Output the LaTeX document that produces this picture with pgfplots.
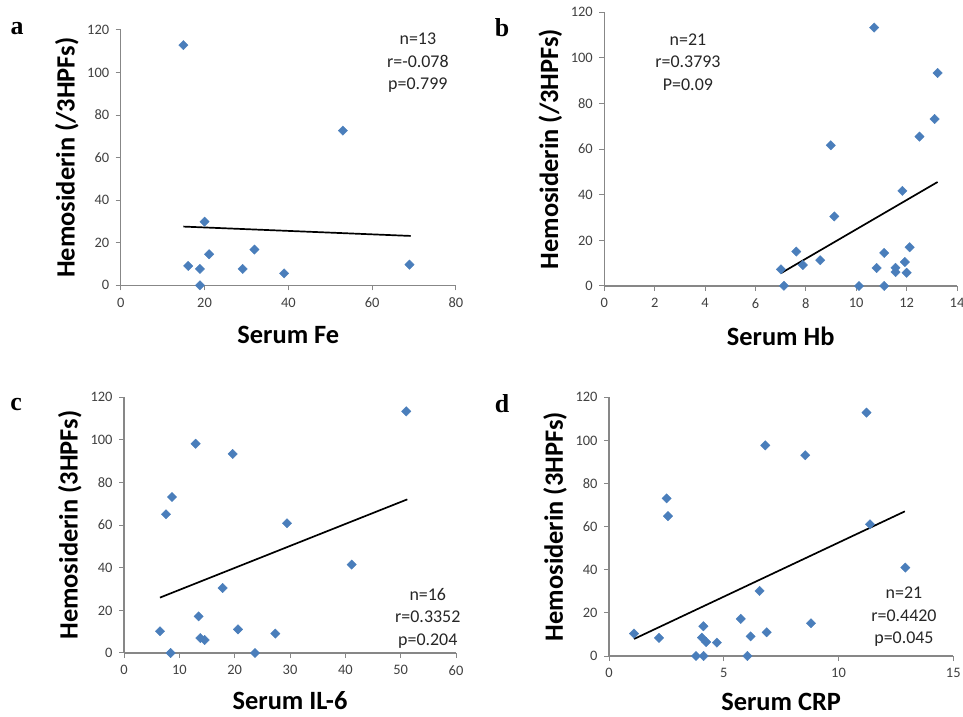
\documentclass[border=0pt]{standalone}
\usepackage{fontspec}
\setmainfont{Carlito}
\newfontfamily\letterfont{Liberation Serif}
\usepackage{pgfplots}
\pgfplotsset{compat=1.18}
\definecolor{ptblue}{HTML}{4A7EBB}
\definecolor{axgray}{HTML}{878787}
\pgfplotsset{
  panel/.style={
    scale only axis, anchor=south west,
    axis lines=left, axis line style={-, axgray, line width=1.3bp},
    tick style={axgray, line width=1bp}, major tick length=5bp, tick align=outside,
    ymin=0, ymax=120, ytick={0,20,...,120},
    clip=false,
    tick label style={font=\fontsize{14.5}{14.5}\selectfont, text=black!75},
    xticklabel style={yshift=-4bp},
    yticklabel style={xshift=-3bp},
    /pgf/number format/assume math mode=true,
    label style={font=\bfseries\fontsize{26.5}{26.5}\selectfont, anchor=center, inner sep=1bp},
  },
  pts/.style={only marks, mark=square*, mark size=3.3bp,
    mark options={rotate=45, fill=ptblue, draw=ptblue}},
  fit/.style={no marks, black, line width=1.7bp},
}
\tikzset{
  stat/.style={font=\fontsize{18}{22.5}\selectfont, align=center, text=black!85},
  letter/.style={font=\letterfont\bfseries\fontsize{26}{26}\selectfont},
}
\begin{document}
\begin{tikzpicture}
\useasboundingbox (0,0) rectangle (963bp,717bp);

% a: serum Fe
\begin{axis}[panel, at={(120.7bp,431.7bp)}, width=335.3bp, height=255.3bp,
  xmin=0, xmax=80, xtick={0,20,...,80},
  xlabel={Serum Fe}, ylabel={Hemosiderin (/3HPFs)},
  xlabel style={at={(axis description cs:0.5,-0.196)}},
  ylabel style={at={(axis description cs:-0.161,0.5)}}]
\addplot[pts] coordinates {
  (14.95,112.9) (53.0,72.7) (20.0,29.9) (16.1,9.1) (18.9,7.7) (18.9,0)
  (21.1,14.6) (29.1,7.7) (31.9,16.8) (39.0,5.6) (68.9,9.7)
};
\addplot[fit] coordinates {(14.95,27.6) (69.2,23.2)};
\node[stat] at (axis cs:70.9,104.5) {n=13\\r=-0.078\\p=0.799};
\end{axis}

% b: serum Hb
\begin{axis}[panel, at={(604.3bp,431bp)}, width=352.7bp, height=273.7bp,
  xmin=0, xmax=14, xtick={0,2,...,14},
  xlabel={Serum Hb}, ylabel={Hemosiderin (/3HPFs)},
  xlabel style={at={(axis description cs:0.5,-0.183)}},
  ylabel style={at={(axis description cs:-0.153,0.5)}}]
\addplot[pts] coordinates {
  (10.71,113.3) (13.23,93.4) (13.11,73.2) (12.51,65.5) (8.99,61.7)
  (11.83,41.7) (9.13,30.5) (7.62,15.1) (7.01,7.3) (7.88,9.2) (8.57,11.3)
  (7.13,0.1) (10.11,0) (11.11,0) (11.11,14.5) (10.81,7.9) (11.56,8.0)
  (11.56,6.1) (12.12,17.0) (11.93,10.5) (12.0,5.8)
};
\addplot[fit] coordinates {(7.01,5.6) (13.23,45.6)};
\node[stat] at (axis cs:3.32,98.2) {n=21\\r=0.3793\\P=0.09};
\end{axis}

% c: serum IL-6
\begin{axis}[panel, at={(124bp,64bp)}, width=332bp, height=255.7bp,
  xmin=0, xmax=60, xtick={0,10,...,60},
  xlabel={Serum IL-6}, ylabel={Hemosiderin (3HPFs)},
  xlabel style={at={(axis description cs:0.5,-0.186)}},
  ylabel style={at={(axis description cs:-0.163,0.5)}}]
\addplot[pts] coordinates {
  (51.0,113.4) (12.95,98.2) (19.64,93.4) (8.67,73.2) (7.59,65.1)
  (29.46,60.9) (41.14,41.5) (17.83,30.5) (13.49,17.2) (6.51,10.2)
  (20.6,11.1) (27.35,9.1) (13.8,7.0) (14.58,6.1) (8.43,0) (23.67,0)
};
\addplot[fit] coordinates {(6.5,26.0) (51.2,72.1)};
\node[stat] at (axis cs:54.9,16.4) {n=16\\r=0.3352\\p=0.204};
\end{axis}

% d: serum CRP
\begin{axis}[panel, at={(609bp,61bp)}, width=344.3bp, height=258.7bp,
  xmin=0, xmax=15, xtick={0,5,10,15},
  xlabel={Serum CRP}, ylabel={Hemosiderin (3HPFs)},
  xlabel style={at={(axis description cs:0.5,-0.176)}},
  ylabel style={at={(axis description cs:-0.157,0.5)}}]
\addplot[pts] coordinates {
  (11.22,112.9) (6.81,97.7) (8.55,93.1) (2.51,73.1) (2.57,64.9)
  (11.37,61.1) (12.91,41.0) (6.56,30.2) (5.74,17.2) (8.8,15.2)
  (4.11,13.8) (1.09,10.4) (6.87,11.0) (2.18,8.4) (4.05,8.5) (6.17,9.1)
  (4.23,6.5) (4.7,6.2) (3.79,0) (4.12,0) (6.03,0)
};
\addplot[fit] coordinates {(1.09,7.9) (12.89,67.1)};
\node[stat] at (axis cs:12.85,18.1) {n=21\\r=0.4420\\p=0.045};
\end{axis}

% panel letters
\node[letter] at (17bp,688bp) {a};
\node[letter] at (502bp,689bp) {b};
\node[letter] at (16bp,312bp) {c};
\node[letter] at (502bp,313bp) {d};
\end{tikzpicture}
\end{document}
